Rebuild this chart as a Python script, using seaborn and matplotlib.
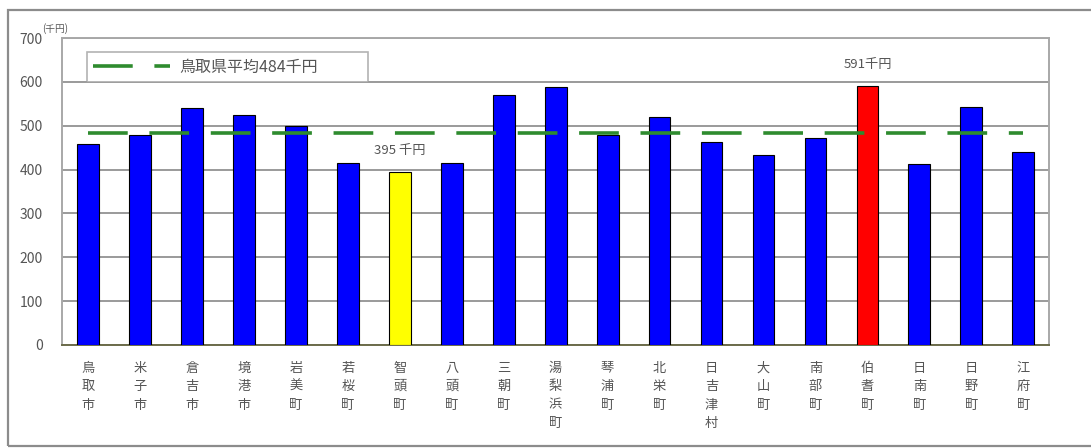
import numpy as np
import pandas as pd
import seaborn as sns
import matplotlib.pyplot as plt
from matplotlib.patches import Rectangle

# 市町村別の値（千円）
towns = ["鳥取市", "米子市", "倉吉市", "境港市", "岩美町", "若桜町", "智頭町", "八頭町",
         "三朝町", "湯梨浜町", "琴浦町", "北栄町", "日吉津村", "大山町", "南部町", "伯耆町",
         "日南町", "日野町", "江府町"]
values = [459, 480, 541, 525, 500, 416, 395, 415, 570, 588, 480, 520, 464, 434, 471, 591,
          413, 542, 440]
bar_colors = ["#0000FF"] * len(towns)
bar_colors[towns.index("智頭町")] = "#FFFF00"
bar_colors[towns.index("伯耆町")] = "#FF0000"
pref_avg = 484
avg_label = "鳥取県平均484千円"
min_label = "395 千円"
max_label = "591千円"
yticks = [0, 100, 200, 300, 400, 500, 600, 700]

sns.set_style("white")
plt.rcParams["font.family"] = ["Noto Sans CJK JP", "DejaVu Sans"]
txt_color = "#555555"

df = pd.DataFrame({"town": towns, "value": values})

fig = plt.figure(figsize=(10.91, 4.48), dpi=100)
ax = fig.add_axes([0.0568, 0.23, 0.905, 0.685])

sns.barplot(data=df, x="town", y="value", hue="town", palette=bar_colors,
            legend=False, width=0.42, edgecolor="black", linewidth=0.8,
            saturation=1, ax=ax, zorder=3)

avg_line, = ax.plot([0, len(towns) - 1], [pref_avg, pref_avg], color="#2E8B2E",
                    lw=2.6, dashes=(11, 6), zorder=4, label=avg_label)

ax.set_ylim(0, 700)
ax.set_xlim(-0.5, len(towns) - 0.5)
ax.set_yticks(yticks)
ax.yaxis.grid(True, color="#9A9A9A", lw=1.4, zorder=0)
ax.set_axisbelow(True)
for s in ["top", "right", "left"]:
    ax.spines[s].set_color("#A8A8A8")
    ax.spines[s].set_linewidth(1.4)
ax.spines["bottom"].set_color("#6B6B4A")
ax.spines["bottom"].set_linewidth(1.4)

ax.set_xticks(range(len(towns)))
ax.set_xticklabels(["\n".join(t) for t in towns], fontsize=9.5, color=txt_color,
                   linespacing=1.55, va="top")
ax.tick_params(axis="x", length=0, pad=12)
ax.tick_params(axis="y", length=0, pad=14, labelsize=10, labelcolor=txt_color)
ax.set_xticks(np.arange(0.5, len(towns) - 1, 1), minor=True)
ax.tick_params(axis="x", which="minor", direction="in", length=3, color="#6B6B9A")
ax.set_xlabel("")
ax.set_ylabel("")

ax.text(towns.index("智頭町"), 444, min_label, ha="center", va="center",
        fontsize=9.5, color=txt_color)
ax.text(towns.index("伯耆町"), 640, max_label, ha="center", va="center",
        fontsize=9.5, color=txt_color)
ax.text(-0.02, 1.03, "(千円)", transform=ax.transAxes, fontsize=7,
        color=txt_color, ha="left", va="center")

leg = ax.legend(handles=[avg_line], loc="lower left",
                bbox_to_anchor=(0.025, 0.857, 0.285, 0.11), mode="expand",
                fontsize=11.5, frameon=True, fancybox=False, borderpad=0.4,
                handlelength=4.8, handletextpad=0.6, borderaxespad=0)
leg.get_frame().set_edgecolor("#A0A0A0")
leg.get_frame().set_linewidth(1.2)
for t in leg.get_texts():
    t.set_color(txt_color)

fig.patches.append(Rectangle((0.0075, 0.005), 1.2, 0.972, transform=fig.transFigure,
                             fill=False, edgecolor="#8C8C8C", lw=1.6))

fig.savefig("out.png", dpi=100)
